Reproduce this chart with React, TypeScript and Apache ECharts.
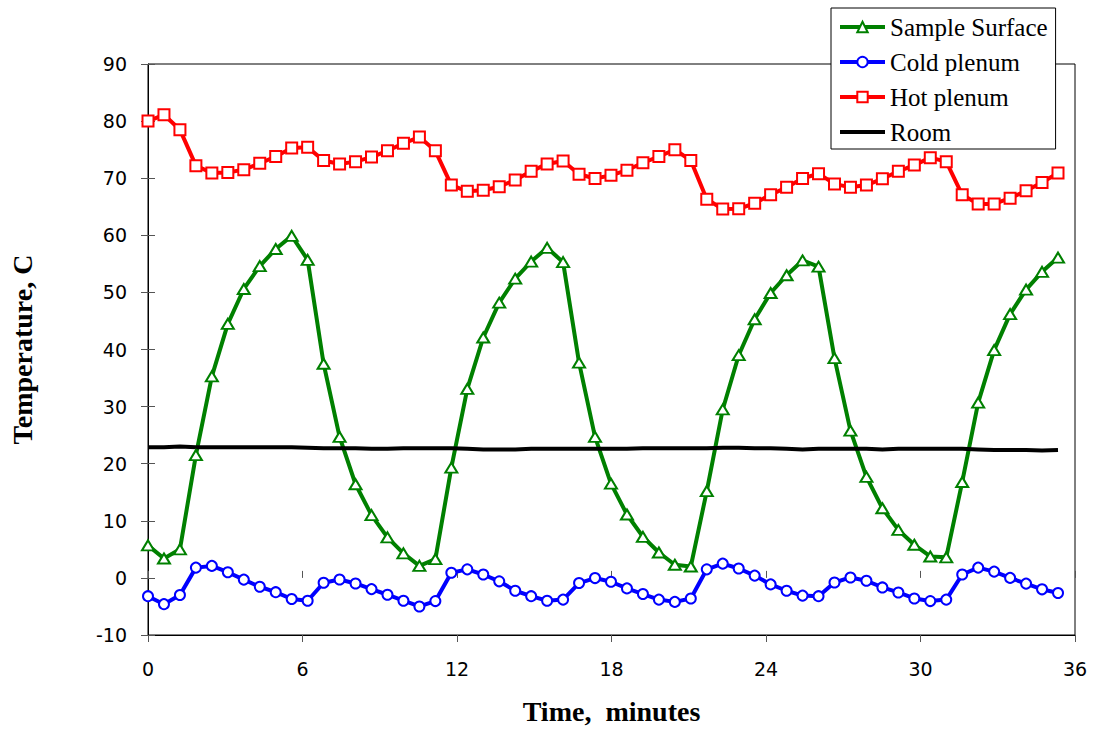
import React, { useEffect, useRef } from "react";
import * as echarts from "echarts";

const times = [0, 0.62, 1.24, 1.86, 2.48, 3.1, 3.72, 4.34, 4.96, 5.58, 6.2, 6.82, 7.44, 8.06, 8.68, 9.3, 9.92, 10.54, 11.16, 11.78, 12.4, 13.02, 13.64, 14.26, 14.88, 15.5, 16.12, 16.74, 17.36, 17.98, 18.6, 19.22, 19.84, 20.46, 21.08, 21.7, 22.32, 22.94, 23.56, 24.18, 24.8, 25.42, 26.04, 26.66, 27.28, 27.9, 28.52, 29.14, 29.76, 30.38, 31.0, 31.62, 32.24, 32.86, 33.48, 34.1, 34.72, 35.34];

const sampleSurface = [5.7, 3.4, 5.0, 21.5, 35.3, 44.5, 50.6, 54.6, 57.6, 59.9, 55.7, 37.5, 24.7, 16.4, 11.0, 7.1, 4.3, 2.1, 3.3, 19.3, 33.1, 42.1, 48.2, 52.4, 55.4, 57.8, 55.3, 37.7, 24.7, 16.5, 11.1, 7.2, 4.45, 2.3, 2.0, 15.2, 29.5, 39.0, 45.3, 49.9, 53.0, 55.6, 54.5, 38.5, 25.8, 17.7, 12.2, 8.4, 5.8, 3.75, 3.6, 16.8, 30.7, 39.9, 46.2, 50.5, 53.6, 56.1];

const coldPlenum = [-3.2, -4.6, -3.0, 1.8, 2.1, 1.0, -0.3, -1.55, -2.5, -3.7, -4.0, -0.85, -0.27, -0.97, -1.96, -2.95, -4.0, -5.0, -4.06, 0.9, 1.5, 0.6, -0.6, -2.25, -3.2, -4.0, -3.8, -0.9, -0.03, -0.67, -1.84, -2.83, -3.8, -4.2, -3.6, 1.5, 2.5, 1.65, 0.4, -1.14, -2.25, -3.1, -3.2, -0.8, 0.08, -0.5, -1.67, -2.55, -3.6, -4.06, -3.8, 0.6, 1.8, 1.1, 0.0, -1.0, -2.0, -2.65];

const hotPlenum = [80.0, 81.1, 78.5, 72.2, 70.9, 71.0, 71.5, 72.6, 73.8, 75.3, 75.4, 73.1, 72.5, 72.9, 73.7, 74.8, 76.1, 77.2, 74.8, 68.8, 67.7, 67.9, 68.5, 69.7, 71.2, 72.5, 73.0, 70.7, 69.95, 70.5, 71.4, 72.7, 73.8, 75.0, 73.1, 66.3, 64.6, 64.65, 65.6, 67.1, 68.4, 69.95, 70.8, 69.0, 68.4, 68.8, 69.9, 71.2, 72.3, 73.6, 72.9, 67.1, 65.5, 65.5, 66.5, 67.8, 69.25, 70.9];

const room = [22.9, 22.9, 23.0, 22.9, 22.9, 22.9, 22.9, 22.9, 22.9, 22.9, 22.8, 22.7, 22.7, 22.7, 22.6, 22.6, 22.7, 22.7, 22.7, 22.7, 22.6, 22.5, 22.5, 22.5, 22.6, 22.6, 22.6, 22.6, 22.6, 22.6, 22.6, 22.7, 22.7, 22.7, 22.7, 22.7, 22.8, 22.8, 22.7, 22.7, 22.6, 22.5, 22.6, 22.6, 22.6, 22.6, 22.5, 22.6, 22.6, 22.6, 22.6, 22.6, 22.5, 22.4, 22.4, 22.4, 22.3, 22.4];

const seriesNames = ["Sample Surface", "Cold plenum", "Hot plenum", "Room"];

const pairs = (vals: number[]) => vals.map((v, i) => [times[i], v]);

const SERIF = "'Liberation Serif', 'Times New Roman', serif";

export default function App() {
  const ref = useRef<HTMLDivElement>(null);
  useEffect(() => {
    if (!ref.current) return;
    const chart = echarts.init(ref.current, null, { renderer: "svg" });
    const tickLabel = { fontFamily: "DejaVu Sans", fontSize: 19, color: "#000" };
    chart.setOption({
      animation: false,
      backgroundColor: "#fff",
      grid: {
        left: 148,
        right: 19,
        top: 64,
        bottom: 94,
        show: true,
        borderColor: "#000",
        borderWidth: 1,
        backgroundColor: "transparent",
      },
      legend: {
        orient: "vertical",
        left: 831,
        top: 8,
        itemWidth: 45,
        itemHeight: 13,
        itemGap: 9,
        padding: [6, 8, 4, 7],
        backgroundColor: "#fff",
        borderColor: "#000",
        borderWidth: 1,
        z: 10,
        lineStyle: { width: 4 },
        textStyle: { fontFamily: SERIF, fontSize: 25, color: "#000", lineHeight: 26 },
        data: [
          seriesNames[0],
          seriesNames[1],
          seriesNames[2],
          { name: seriesNames[3], itemStyle: { opacity: 0 } },
        ],
      },
      xAxis: [
        {
          type: "value",
          min: 0,
          max: 36,
          interval: 6,
          name: "Time,  minutes",
          nameLocation: "middle",
          nameGap: 62,
          nameTextStyle: { fontFamily: SERIF, fontWeight: "bold", fontSize: 28, color: "#000" },
          axisLine: { show: true, onZero: false, lineStyle: { color: "#000", width: 1 } },
          axisTick: { show: true, inside: false, length: 7, lineStyle: { color: "#555" } },
          axisLabel: { ...tickLabel, margin: 24 },
          splitLine: { show: false },
        },
        {
          type: "value",
          min: 0,
          max: 36,
          interval: 6,
          position: "bottom",
          axisLine: { show: false },
          axisTick: { show: true, inside: true, length: 7, lineStyle: { color: "#555" } },
          axisLabel: { show: false },
          splitLine: { show: false },
        },
      ],
      yAxis: [
        {
          type: "value",
          min: -10,
          max: 90,
          interval: 10,
          name: "Temperature, C",
          nameLocation: "middle",
          nameGap: 112,
          nameRotate: 90,
          nameTextStyle: { fontFamily: SERIF, fontWeight: "bold", fontSize: 28, color: "#000" },
          axisLine: { show: true, onZero: false, lineStyle: { color: "#000", width: 1 } },
          axisTick: { show: true, inside: false, length: 7, lineStyle: { color: "#555" } },
          axisLabel: { ...tickLabel, margin: 21 },
          splitLine: { show: false },
        },
        {
          type: "value",
          min: -10,
          max: 90,
          interval: 10,
          position: "left",
          axisLine: { show: false },
          axisTick: { show: true, inside: true, length: 7, lineStyle: { color: "#555" } },
          axisLabel: { show: false },
          splitLine: { show: false },
        },
      ],
      series: [
        {
          name: seriesNames[0],
          type: "line",
          data: pairs(sampleSurface),
          symbol: "triangle",
          symbolSize: [12, 10],
          showAllSymbol: true,
          lineStyle: { color: "#008000", width: 4 },
          itemStyle: { color: "#fff", borderColor: "#008000", borderWidth: 2 },
          emphasis: { disabled: true },
        },
        {
          name: seriesNames[1],
          type: "line",
          data: pairs(coldPlenum),
          symbol: "circle",
          symbolSize: 10,
          showAllSymbol: true,
          lineStyle: { color: "#0000ff", width: 4 },
          itemStyle: { color: "#fff", borderColor: "#0000ff", borderWidth: 2 },
          emphasis: { disabled: true },
        },
        {
          name: seriesNames[2],
          type: "line",
          data: pairs(hotPlenum),
          symbol: "rect",
          symbolSize: 11,
          showAllSymbol: true,
          lineStyle: { color: "#ff0000", width: 4 },
          itemStyle: { color: "#fff", borderColor: "#ff0000", borderWidth: 2 },
          emphasis: { disabled: true },
        },
        {
          name: seriesNames[3],
          type: "line",
          data: pairs(room),
          symbol: "none",
          lineStyle: { color: "#000", width: 4 },
          itemStyle: { color: "#000" },
          emphasis: { disabled: true },
        },
      ],
    });
    return () => chart.dispose();
  }, []);
  return (
    <div
      ref={ref}
      style={{ position: "absolute", left: 0, top: 0, width: 1094, height: 730 }}
    />
  );
}
